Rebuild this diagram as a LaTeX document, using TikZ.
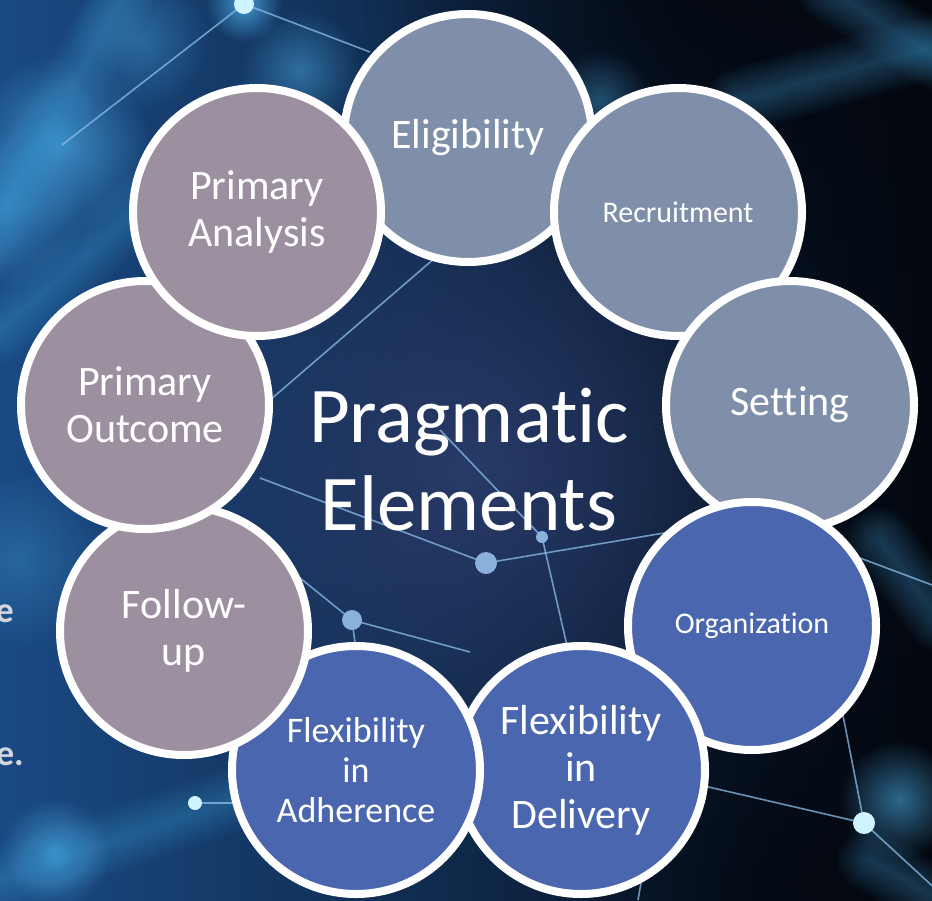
\documentclass[tikz,border=0pt]{standalone}
\usepackage{fontspec}
\setmainfont[Ligatures={NoCommon,NoRequired,NoContextual}]{Carlito}
\usetikzlibrary{fadings}
\definecolor{cslate}{HTML}{7F8FA9}
\definecolor{cblue}{HTML}{4A66AE}
\definecolor{cmauve}{HTML}{9C8FA0}
\definecolor{bgL}{HTML}{1A4A84}
\definecolor{bgM}{HTML}{213260}
\definecolor{bgR}{HTML}{03060D}
\definecolor{bgC}{HTML}{2A3B69}
\definecolor{netc}{HTML}{8CC0EC}
\definecolor{glowc}{HTML}{4AA8E0}
\definecolor{dotc}{HTML}{8AB0DC}
\definecolor{brightc}{HTML}{CFF3FF}
\definecolor{lgray}{HTML}{D3D6DD}
\tikzfading[name=softglow, inner color=transparent!0, outer color=transparent!100]
\newcommand{\softband}[2]{%
  \foreach \w in {64,58,...,4}
    {\draw[#1, line width=\w pt, opacity=0.035, line cap=round] #2;}}
\begin{document}
\begin{tikzpicture}[x=1pt,y=-1pt,
  bubble/.style={circle, draw=white, line width=8pt, minimum size=248pt,
    inner sep=0pt, text=white, align=center, font=\fontsize{42}{47}\selectfont},
  smalltxt/.style={font=\fontsize{30}{34}\selectfont},
  midtxt/.style={font=\fontsize{36}{40}\selectfont},
  netline/.style={netc, line width=1.6pt, opacity=0.75},
  glow/.style={fill=#1, path fading=softglow},
  edgetxt/.style={anchor=base east, inner sep=0pt, text=lgray,
    font=\bfseries\fontsize{36}{40}\selectfont}]
\useasboundingbox (0,0) rectangle (932,900);
\begin{scope}
\clip (0,0) rectangle (932,900);
% base background
\shade[left color=bgL, middle color=bgM, right color=bgR] (0,0) rectangle (932,900);
% darker top right and bottom right
\fill[glow=bgR, opacity=0.9] (720,-40) circle (360);
\fill[glow=bgR, opacity=0.7] (800,900) circle (260);
% central navy glow
\fill[glow=bgC, opacity=0.95] (468,470) circle (330);
% soft bright regions
\fill[glow=glowc, opacity=0.7] (60,145) circle (90);
\fill[glow=glowc, opacity=0.55] (5,210) circle (80);
\fill[glow=glowc, opacity=0.5] (300,70) circle (60);
\fill[glow=glowc, opacity=0.4] (600,100) circle (50);
\fill[glow=glowc, opacity=0.85] (244,4) circle (38);
\fill[glow=glowc, opacity=0.7] (55,853) circle (55);
\fill[glow=glowc, opacity=0.6] (899,800) circle (60);
\fill[glow=glowc, opacity=0.4] (140,40) circle (70);
\fill[glow=glowc, opacity=0.3] (20,560) circle (90);
% blurred bands
\softband{glowc}{(0,330) -- (250,110)}
\softband{glowc}{(-20,250) -- (120,0)}
\softband{glowc}{(0,880) -- (260,790)}
\softband{glowc}{(740,100) -- (940,45)}
\softband{glowc}{(830,-10) -- (940,60)}
\softband{glowc}{(880,540) -- (940,620)}
\softband{glowc}{(870,860) -- (940,900)}
% network lines
\draw[netline] (244,4) -- (62,145);
\draw[netline] (244,4) -- (370,52);
\draw[netline] (450,245) -- (270,400);
\draw[netline] (260,478) -- (486,563) -- (670,532);
\draw[netline] (440,430) -- (542,537) -- (568,650);
\draw[netline] (300,578) -- (352,620) -- (470,652);
\draw[netline] (352,620) -- (356,650);
\draw[netline] (195,803) -- (240,803);
\draw[netline] (700,785) -- (864,823) -- (940,893);
\draw[netline] (864,823) -- (840,700);
\draw[netline] (860,558) -- (940,588);
\draw[netline] (645,860) -- (638,900);
% dots
\fill[dotc] (486,563) circle (11);
\fill[dotc] (542,537) circle (6);
\fill[dotc] (352,620) circle (10);
\fill[brightc] (195,803) circle (7);
\fill[brightc] (864,823) circle (11);
\fill[brightc] (244,4) circle (10);
% cut-off slide text at the left edge
\node[edgetxt] (te1) at (14,622) {e};
\node[edgetxt] (te2) at (24,765) {e.};
\end{scope}
% bubbles, drawn in stacking order
\node[bubble, fill=cslate] (elig) at (468,138) {Eligibility};
\node[bubble, fill=cslate, smalltxt] (recr) at (678,212) {Recruitment};
\node[bubble, fill=cslate] (sett) at (790,405) {Setting};
\node[bubble, fill=cblue, smalltxt] (org) at (752,626) {Organization};
\node[bubble, fill=cblue] (deliv) at (581,770) {Flexibility\\in\\Delivery};
\node[bubble, fill=cblue, midtxt] (adher) at (356,770) {Flexibility\\in\\Adherence};
\node[bubble, fill=cmauve] (follow) at (184,631) {Follow-\\up};
\node[bubble, fill=cmauve] (outc) at (145,405) {Primary\\Outcome};
\node[bubble, fill=cmauve] (anal) at (257,212) {Primary\\Analysis};
% centre title
\node[text=white, align=center, inner sep=0pt,
  font=\fontsize{79}{88}\selectfont] (title) at (469,460) {Pragmatic\\Elements};
\end{tikzpicture}
\end{document}
